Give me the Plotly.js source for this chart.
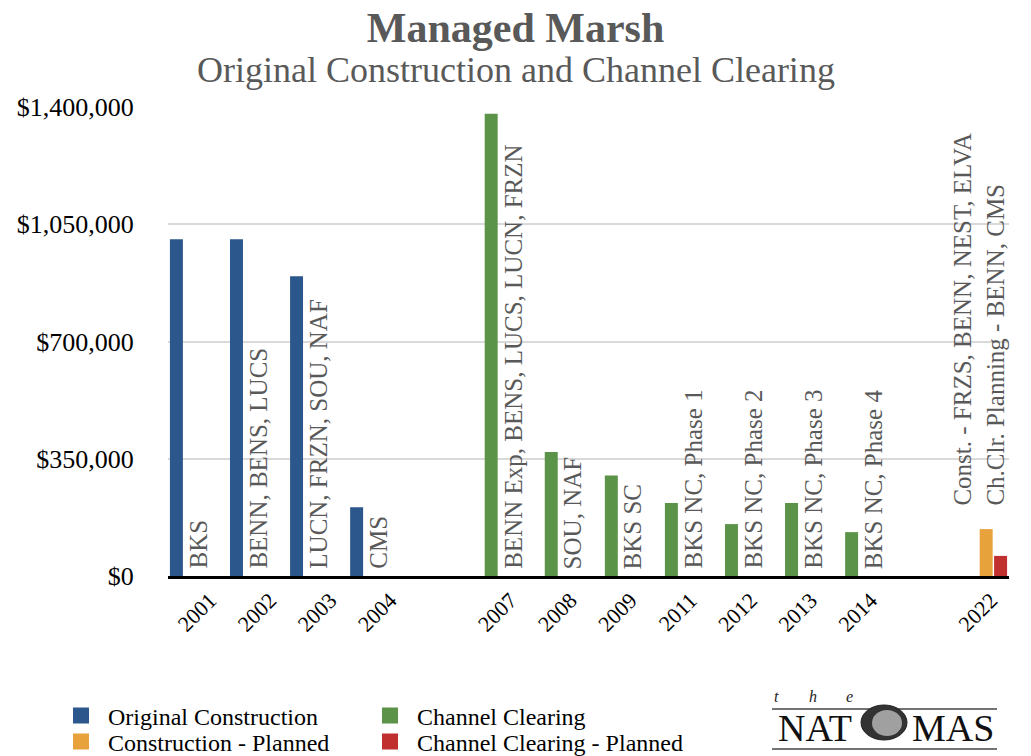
<!DOCTYPE html>
<html>
<head>
<meta charset="utf-8">
<script src="https://cdn.plot.ly/plotly-3.0.1.min.js"></script>
<style>html,body{margin:0;padding:0;background:#fff;}#chart{width:1031px;height:756px;}</style>
</head>
<body>
<div id="chart"></div>
<script>
// ---- data ----
var categories = ['2001','2002','2003','2004','2007','2008','2009','2011','2012','2013','2014','2022'];
var axisCategories = ['2001','2002','2003','2004',' ','2007','2008','2009','2011','2012','2013','2014','  ','2022'];
var originalConstruction = [1005000, 1005000, 895000, 205000, null, null, null, null, null, null, null, null];
var channelClearing      = [null, null, null, null, 1380000, 370000, 300000, 218000, 155000, 218000, 131000, null];
var constructionPlanned  = [null, null, null, null, null, null, null, null, null, null, null, 140000];
var channelPlanned       = [null, null, null, null, null, null, null, null, null, null, null, 60000];
var barLabels = ['BKS', 'BENN, BENS, LUCS', 'LUCN, FRZN, SOU, NAF', 'CMS',
  'BENN Exp, BENS, LUCS, LUCN, FRZN', 'SOU, NAF', 'BKS SC',
  'BKS NC, Phase 1', 'BKS NC, Phase 2', 'BKS NC, Phase 3', 'BKS NC, Phase 4',
  'Const. - FRZS, BENN, NEST, ELVA<br>Ch.Clr. Planning - BENN, CMS'];
var seriesNames = ['Original Construction', 'Channel Clearing', 'Construction - Planned', 'Channel Clearing - Planned'];
var yTicks = [0, 350000, 700000, 1050000, 1400000];
var yTickText = ['$0', '$350,000', '$700,000', '$1,050,000', '$1,400,000'];

// ---- style ----
var FONT = 'Liberation Serif, Times New Roman, serif';
var colors = ['#2C578C', '#5B9448', '#E8A23B', '#C0302F'];
var W = 1031, H = 756;
var M = {l: 168, r: 22, t: 107, b: 180, autoexpand: false};
var PW = W - M.l - M.r, PH = H - M.t - M.b;
function px(x) { return (x - M.l) / PW; }
function py(y) { return (H - M.b - y) / PH; }
var BARGAP = 0.04;
var SLOT = (1 - BARGAP) / 4;   // width of one bar slot in category units

var seriesData = [originalConstruction, channelClearing, constructionPlanned, channelPlanned];
var traces = [];
seriesData.forEach(function (vals, i) {
  traces.push({
    type: 'bar', name: seriesNames[i], x: categories, y: vals,
    marker: {color: colors[i]}, showlegend: false, hoverinfo: 'x+y+name'
  });
});
// legend entries (square swatches)
var legendIds = ['legend', 'legend2', 'legend3', 'legend4'];
seriesNames.forEach(function (n, i) {
  traces.push({
    type: 'scatter', mode: 'markers', name: n, x: [null], y: [null],
    marker: {symbol: 'square', size: 20, color: colors[i]},
    legend: legendIds[i], showlegend: true, hoverinfo: 'skip'
  });
});

// bar labels: just right of each bar (planned ones sit above their bars)
var annotations = [];
categories.forEach(function (c, i) {
  var idx = axisCategories.indexOf(c);
  var x, top = 0, lift = 5;
  if (constructionPlanned[i] != null || channelPlanned[i] != null) {
    top = Math.max(constructionPlanned[i] || 0, channelPlanned[i] || 0);
    lift = 22;
    x = idx;
  } else {
    var slot = originalConstruction[i] != null ? 0 : 1;
    x = idx + slot * SLOT;
  }
  annotations.push({
    x: x, y: top, xref: 'x', yref: 'y', text: barLabels[i], showarrow: false,
    textangle: -90, xanchor: 'center', yanchor: 'bottom', yshift: lift, align: 'left',
    font: {family: FONT, size: 25, color: '#595959'}
  });
});
// subtitle
annotations.push({
  xref: 'paper', yref: 'paper', x: px(515.5), y: py(70), xanchor: 'center', yanchor: 'middle',
  text: 'Original Construction and Channel Clearing', showarrow: false,
  font: {family: FONT, size: 36, color: '#595959'}
});
// logo text
[['t', 776], ['h', 813], ['e', 849]].forEach(function (p) {
  annotations.push({xref: 'paper', yref: 'paper', x: px(p[1]), y: py(696), xanchor: 'center', yanchor: 'middle',
    text: '<i>' + p[0] + '</i>', showarrow: false, font: {family: FONT, size: 16, color: '#222'}});
});
annotations.push({xref: 'paper', yref: 'paper', x: px(815), y: py(728), xanchor: 'center', yanchor: 'middle',
  text: 'NAT', showarrow: false, font: {family: FONT, size: 38, color: '#111'}});
annotations.push({xref: 'paper', yref: 'paper', x: px(953), y: py(728), xanchor: 'center', yanchor: 'middle',
  text: 'MAS', showarrow: false, font: {family: FONT, size: 38, color: '#111'}});

var shapes = [
  {type: 'line', xref: 'paper', yref: 'paper', x0: px(772), x1: px(997), y0: py(709), y1: py(709), line: {color: '#444', width: 1.5}},
  {type: 'line', xref: 'paper', yref: 'paper', x0: px(772), x1: px(997), y0: py(749), y1: py(749), line: {color: '#444', width: 1.5}},
  {type: 'circle', xref: 'paper', yref: 'paper', x0: px(861), x1: px(907), y0: py(740), y1: py(705), fillcolor: '#333', line: {color: '#222', width: 1}},
  {type: 'circle', xref: 'paper', yref: 'paper', x0: px(872), x1: px(902), y0: py(736), y1: py(710), fillcolor: '#a0a0a0', line: {width: 0}}
];

function legendAt(x, y) {
  return {x: x / W, y: 1 - y / H, xref: 'container', yref: 'container', xanchor: 'left', yanchor: 'middle', itemwidth: 44,
    bgcolor: 'rgba(0,0,0,0)', font: {family: FONT, size: 24, color: '#000'}, itemclick: false, itemdoubleclick: false};
}

var layout = {
  width: W, height: H, margin: M,
  paper_bgcolor: '#fff', plot_bgcolor: '#fff',
  font: {family: FONT},
  title: {text: 'Managed Marsh', x: 0.5, xref: 'container', xanchor: 'center', y: 1 - 27 / H, yref: 'container', yanchor: 'middle',
    font: {family: FONT, size: 42, color: '#595959', weight: 'bold'}},
  barmode: 'group', bargap: BARGAP, bargroupgap: 0.1,
  xaxis: {type: 'category', categoryorder: 'array', categoryarray: axisCategories, range: [-0.5, axisCategories.length - 0.5],
    tickmode: 'array', tickvals: axisCategories, ticktext: axisCategories,
    tickangle: -45, showline: true, linecolor: '#000', linewidth: 2.5, showgrid: false, ticks: '', fixedrange: true,
    tickfont: {family: FONT, size: 22, color: '#000'}, ticklabelshift: 12, automargin: false},
  yaxis: {range: [0, 1400000], tickmode: 'array', tickvals: yTicks, ticktext: yTickText, showgrid: true, gridcolor: '#d9d9d9', gridwidth: 1.5,
    zeroline: false, showline: false, ticks: 'outside', ticklen: 28, tickcolor: 'rgba(0,0,0,0)', fixedrange: true, automargin: false,
    tickfont: {family: FONT, size: 26, color: '#000'}},
  legend: legendAt(54, 716),
  legend2: legendAt(363, 716),
  legend3: legendAt(54, 742),
  legend4: legendAt(363, 742),
  annotations: annotations,
  shapes: shapes,
  showlegend: true
};

Plotly.newPlot('chart', traces, layout, {displayModeBar: false});
</script>
</body>
</html>
